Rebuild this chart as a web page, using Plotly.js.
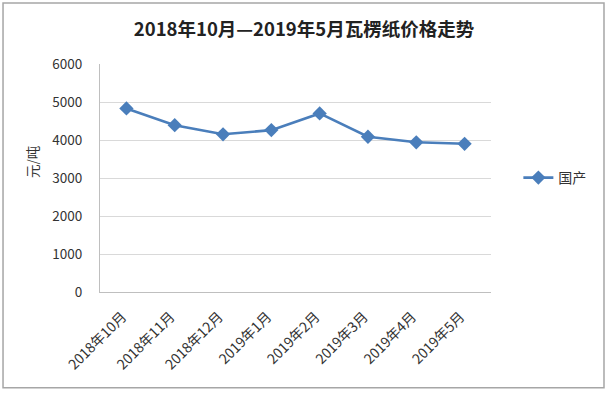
<!DOCTYPE html>
<html><head><meta charset="utf-8">
<script src="https://cdn.plot.ly/plotly-3.0.1.min.js"></script>
<style>html,body{margin:0;padding:0;background:#fff}#chart{width:608px;height:393px}</style>
</head><body><div id="chart"></div>
<script>
const categories = ["2018年10月","2018年11月","2018年12月","2019年1月","2019年2月","2019年3月","2019年4月","2019年5月"];
const prices = [4830, 4390, 4150, 4260, 4700, 4085, 3940, 3900];
const seriesName = "国产";
const yTicks = [0,1000,2000,3000,4000,5000,6000];
const fontFam = '"Noto Sans CJK SC", "Liberation Sans", sans-serif';

Plotly.newPlot('chart', [{
  x: categories, y: prices, name: seriesName, type: 'scatter', mode: 'lines+markers',
  line: {color: '#4A7EBB', width: 2.6},
  marker: {symbol: 'diamond', size: 11, color: '#4A7EBB'}
}], {
  width: 608, height: 393,
  margin: {l: 100, r: 117, t: 64, b: 101},
  paper_bgcolor: '#fff', plot_bgcolor: '#fff',
  font: {family: fontFam, color: '#333', size: 13},
  title: {text: '<b>2018年10月—2019年5月瓦楞纸价格走势</b>', x: 0.5, xref: 'container', xanchor: 'center', y: 0.924, yref: 'container', yanchor: 'middle', font: {size: 18.5, color: '#222'}},
  xaxis: {type: 'category', tickangle: -45, showgrid: false, showline: true, linecolor: '#BFBFBF', linewidth: 1, ticks: '', tickfont: {size: 14, color: '#333'}, ticklabelshift: -4, ticklabelstandoff: 10, fixedrange: true},
  yaxis: {range: [0, 6000], tickvals: yTicks, showgrid: true, gridcolor: '#D9D9D9', gridwidth: 1, showline: true, linecolor: '#BFBFBF', zeroline: false, ticks: '', ticklabelstandoff: 14, tickfont: {size: 13.5, color: '#333'}},
  annotations: [{text: '元/吨', textangle: -90, xref: 'paper', yref: 'paper', x: -0.174, y: 0.57, xanchor: 'center', yanchor: 'middle', showarrow: false, font: {size: 13.5, color: '#333'}}],
  showlegend: true,
  legend: {x: 1.07, xanchor: 'left', y: 0.5, yanchor: 'middle', font: {size: 14, color: '#333'}, bgcolor: 'rgba(0,0,0,0)'},
  shapes: [{type: 'rect', xref: 'paper', yref: 'paper', x0: -0.248, x1: 1.289, y0: -0.42, y1: 1.268, line: {color: '#A6A6A6', width: 1.5}}]
}, {staticPlot: true});
</script></body></html>
